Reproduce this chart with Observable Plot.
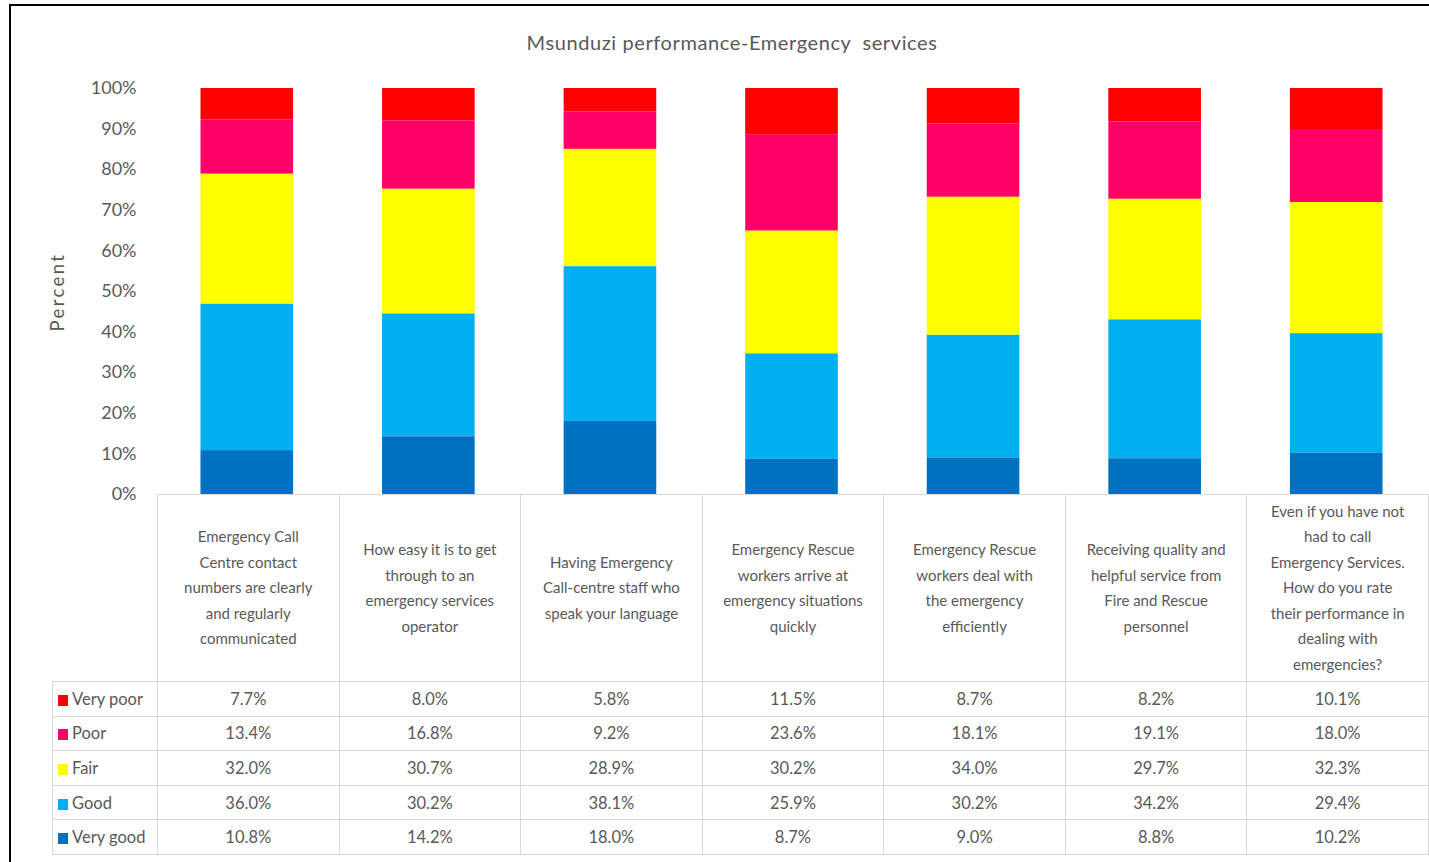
<!DOCTYPE html>
<html>
<head>
<meta charset="utf-8">
<script src="https://cdn.jsdelivr.net/npm/d3@7"></script>
<script src="https://cdn.jsdelivr.net/npm/@observablehq/plot@0.6"></script>
<style>
  html, body { margin: 0; padding: 0; background: #fff; }
  #root { position: relative; width: 1429px; height: 862px; overflow: hidden; background: #fff; font-family: "Lato", sans-serif; color: #595959; }
  #frameTop { position: absolute; left: 9px; top: 4px; width: 1420px; height: 2px; background: #000; }
  #frameLeft { position: absolute; left: 9px; top: 4px; width: 2px; height: 858px; background: #000; }
  #title { position: absolute; left: 0; width: 1464px; top: 30px; text-align: center; font-size: 20px; letter-spacing: 0.6px; white-space: pre; }
  #ylabel { position: absolute; left: 57px; top: 292px; transform: translate(-50%, -50%) rotate(-90deg); font-size: 18.5px; letter-spacing: 2.4px; white-space: nowrap; }
  #chart { position: absolute; left: 0; top: 0; }
  #tbl { position: absolute; left: 52px; top: 494px; border-collapse: collapse; table-layout: fixed; font-size: 16.5px; color: #595959; }
  #tbl td { border: 1px solid #d9d9d9; text-align: center; padding: 0; }
  #tbl td.hdr { white-space: pre-line; line-height: 25.5px; vertical-align: middle; font-size: 15px; }
  #tbl td.blank { border-top: none; border-left: none; }
  #tbl td.lab { text-align: left; padding-left: 5px; white-space: nowrap; }
  .sw { display: inline-block; width: 10px; height: 11px; margin-right: 4px; vertical-align: -1px; }
</style>
</head>
<body>
<div id="root">
  <div id="frameTop"></div>
  <div id="frameLeft"></div>
  <div id="chart"></div>
  <div id="title"></div>
  <div id="ylabel"></div>
  <table id="tbl"></table>
</div>
<script>
const title = "Msunduzi performance-Emergency  services";
const yLabel = "Percent";
const categories = [
  "Emergency Call\nCentre contact\nnumbers are clearly\nand regularly\ncommunicated",
  "How easy it is to get\nthrough to an\nemergency services\noperator",
  "Having Emergency\nCall-centre staff who\nspeak your language",
  "Emergency Rescue\nworkers arrive at\nemergency situations\nquickly",
  "Emergency Rescue\nworkers deal with\nthe emergency\nefficiently",
  "Receiving quality and\nhelpful service from\nFire and Rescue\npersonnel",
  "Even if you have not\nhad to call\nEmergency Services.\nHow do you rate\ntheir performance in\ndealing with\nemergencies?"
];
const ratings = ["Very poor", "Poor", "Fair", "Good", "Very good"];
const veryPoor = [7.7, 8.0, 5.8, 11.5, 8.7, 8.2, 10.1];
const poor     = [13.4, 16.8, 9.2, 23.6, 18.1, 19.1, 18.0];
const fair     = [32.0, 30.7, 28.9, 30.2, 34.0, 29.7, 32.3];
const good     = [36.0, 30.2, 38.1, 25.9, 30.2, 34.2, 29.4];
const veryGood = [10.8, 14.2, 18.0, 8.7, 9.0, 8.8, 10.2];
const colors = ["#FF0000", "#FF0066", "#FFFF00", "#00B0F0", "#0070C0"];
const yTicks = [0, 10, 20, 30, 40, 50, 60, 70, 80, 90, 100];

const series = [veryPoor, poor, fair, good, veryGood];
const rows = [];
ratings.forEach((r, i) => categories.forEach((c, j) => rows.push({category: c, rating: r, value: series[i][j]})));

const W = 1429, mLeft = 156, mRight = 2, mTop = 88, H = 500, mBottom = 6;

const chart = Plot.plot({
  width: W, height: H,
  marginLeft: mLeft, marginRight: mRight, marginTop: mTop, marginBottom: mBottom,
  style: {fontFamily: "Lato, sans-serif", fontSize: "18px", color: "#595959", background: "transparent", overflow: "visible"},
  x: {domain: categories, paddingInner: 0.49, paddingOuter: 0.245, round: false, axis: null},
  y: {domain: [0, 1], label: null},
  color: {domain: ratings, range: colors},
  marks: [
    Plot.ruleY(yTicks, {y: d => d / 100, x1: mLeft + 1, x2: W - mRight, stroke: "#d9d9d9", strokeWidth: 1.2}),
    Plot.barY(rows, Plot.stackY({order: ratings.slice().reverse(), offset: "normalize"},
      {x: "category", y: "value", z: "rating", fill: "rating"})),
    Plot.axisY(yTicks.map(d => d / 100), {tickFormat: d => Math.round(d * 100) + "%", tickSize: 0, tickPadding: 20, label: null, fill: "#595959"})
  ]
});
document.getElementById("chart").appendChild(chart);
document.getElementById("title").textContent = title;
document.getElementById("ylabel").textContent = yLabel;

// table aligned with the band scale
const xs = chart.scale("x");
const step = xs.step;
const tbl = document.getElementById("tbl");
const firstW = mLeft + 1 - 52;
let colgroup = `<colgroup><col style="width:${firstW}px">` + categories.map(() => `<col style="width:${step.toFixed(3)}px">`).join("") + `</colgroup>`;
let html = colgroup;
html += `<tr style="height:187px"><td class="blank"></td>` + categories.map(c => `<td class="hdr">${c}</td>`).join("") + `</tr>`;
ratings.forEach((r, i) => {
  html += `<tr style="height:34.6px"><td class="lab"><span class="sw" style="background:${colors[i]}"></span>${r}</td>` +
    series[i].map(v => `<td>${v.toFixed(1)}%</td>`).join("") + `</tr>`;
});
tbl.innerHTML = html;
tbl.style.width = (W - mRight - 52 + 1) + "px";
</script>
</body>
</html>
